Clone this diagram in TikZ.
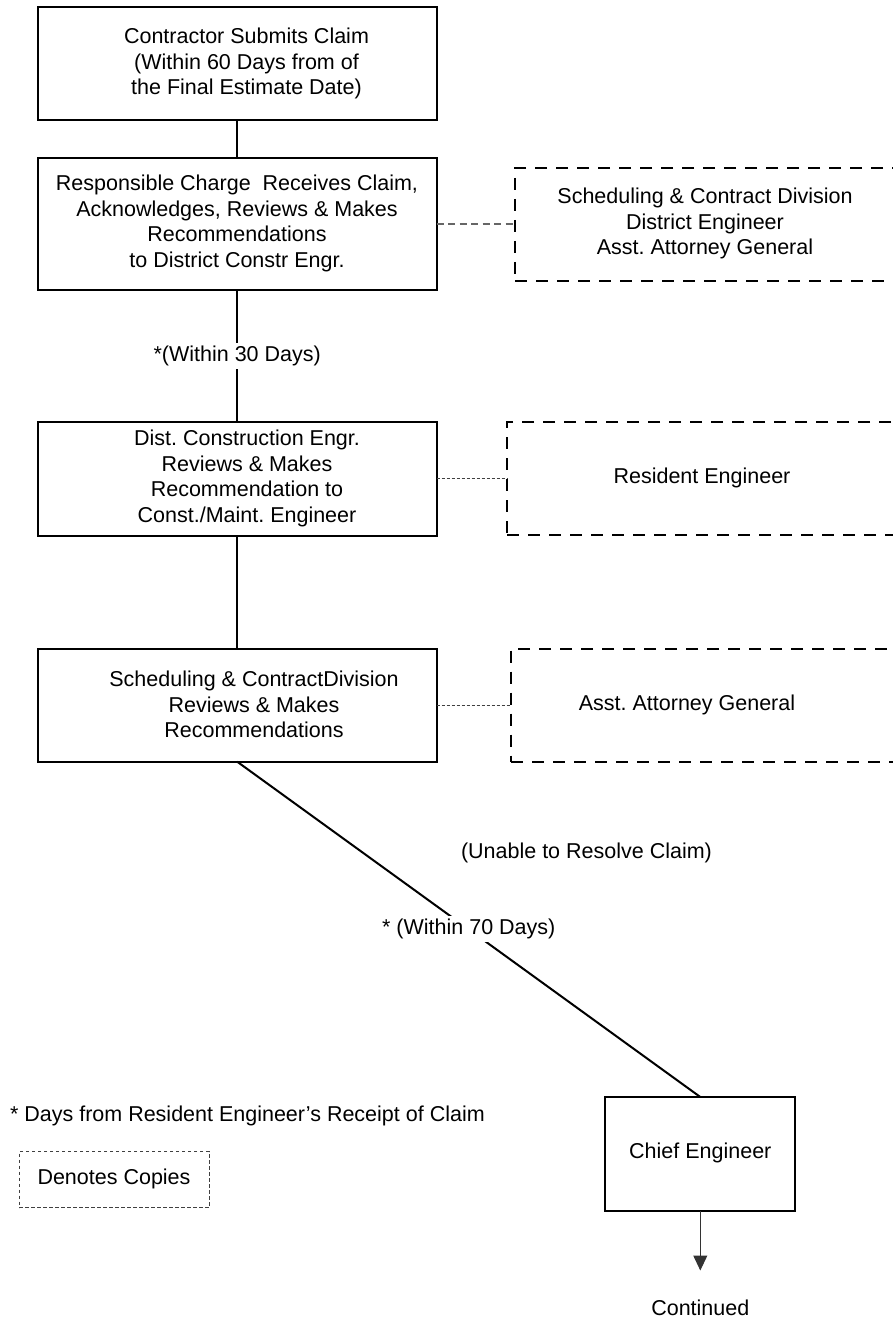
\documentclass[tikz,border=0pt]{standalone}
\usepackage{fontspec}
\setmainfont{Liberation Sans}
\usetikzlibrary{arrows.meta}
\frenchspacing
\begin{document}
\begin{tikzpicture}[x=1pt,y=-1pt,
  every node/.style={inner sep=0pt, outer sep=0pt},
  box/.style={draw, line width=2pt, rectangle},
  copybox/.style={draw, line width=2pt, dash pattern=on 12pt off 9pt, rectangle},
  legendbox/.style={draw=black!75, line width=1pt, dash pattern=on 3.5pt off 2.5pt, rectangle},
  txt/.style={font=\fontsize{21.5}{25.5}\selectfont\frenchspacing, align=center},
  conn/.style={line width=2pt},
  gdash/.style={draw=black!60, line width=1.5pt, dash pattern=on 7pt off 4.5pt},
  dotc/.style={draw=black!75, line width=1pt, dash pattern=on 3pt off 2pt},
  lbl/.style={txt, fill=white, inner sep=3pt},
  arr/.style={draw=black!80, line width=1pt, -{Triangle[width=14pt,length=15pt]}}
]
\useasboundingbox (0,0) rectangle (893,1319);

% main boxes
\node[box, minimum width=399pt, minimum height=113pt] (b1) at (237.2,63.4) {};
\node[box, minimum width=399pt, minimum height=132pt] (b2) at (237.2,223.9) {};
\node[box, minimum width=399pt, minimum height=114pt] (b3) at (237.2,478.7) {};
\node[box, minimum width=399pt, minimum height=113pt] (b4) at (237.2,705.2) {};
\node[box, minimum width=190pt, minimum height=114pt] (chief) at (700.3,1154) {};

% copy boxes
\node[copybox, minimum width=390pt, minimum height=113pt] (ca) at (710,224.4) {};
\node[copybox, minimum width=398pt, minimum height=113pt] (cb) at (706,478.5) {};
\node[copybox, minimum width=394pt, minimum height=113pt] (cc) at (708,705.2) {};
\node[legendbox, minimum width=190pt, minimum height=56pt] (leg) at (114,1179.7) {};

% texts
\node[txt] (t1) at (246.5,63.5) {Contractor Submits Claim\\(Within 60 Days from of\\the Final Estimate Date)};
\node[txt] (t2) at (237,223.5) {Responsible Charge~ Receives Claim,\\Acknowledges, Reviews \& Makes\\Recommendations\\to District Constr Engr.};
\node[txt] (t3) at (247,478.5) {Dist. Construction Engr.\\Reviews \& Makes\\Recommendation to\\Const./Maint. Engineer};
\node[txt] (t4) at (254,704.5) {Scheduling \& ContractDivision\\Reviews \& Makes\\Recommendations};
\node[txt] (ta) at (705,223.5) {Scheduling \& Contract Division\\District Engineer\\Asst. Attorney General};
\node[txt] (tb) at (702,478) {Resident Engineer};
\node[txt] (tc) at (687,705) {Asst. Attorney General};
\node[txt] (tchief) at (700.3,1153) {Chief Engineer};
\node[txt] (tleg) at (114,1179) {Denotes Copies};
\node[txt] (cont) at (700.3,1308) {Continued};
\node[txt] (unable) at (586.5,852.5) {(Unable to Resolve Claim)};
\node[txt, anchor=west] (foot) at (10,1115.6) {* Days from Resident Engineer’s Receipt of Claim};

\coordinate (arrend) at (700.3,1270.5);

% connectors
\draw[conn] (b1.south) -- (b2.north);
\draw[conn] (b2.south) -- node[lbl] (l30) {*(Within 30 Days)} (b3.north);
\draw[conn] (b3.south) -- (b4.north);
\draw[conn] (b4.south) -- node[lbl] (l70) {* (Within 70 Days)} (chief.north);
\draw[gdash] (b2.east) -- (b2.east -| ca.west);
\draw[dotc] (b3.east) -- (b3.east -| cb.west);
\draw[dotc] (b4.east) -- (b4.east -| cc.west);
\draw[arr] (chief.south) -- (arrend);
\end{tikzpicture}
\end{document}
